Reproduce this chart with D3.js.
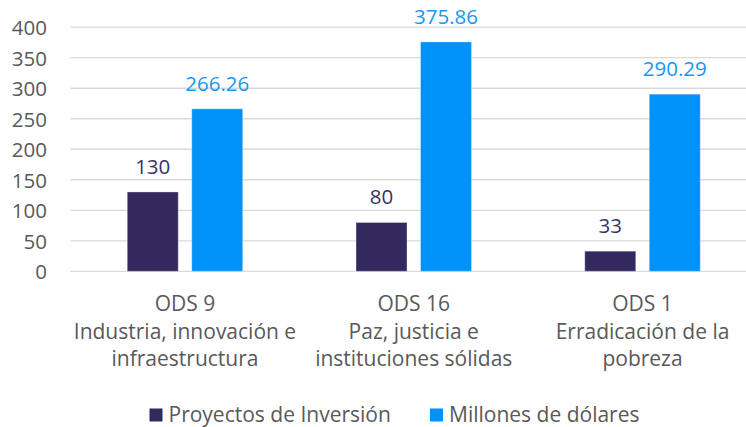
<!DOCTYPE html>
<html>
<head>
<meta charset="utf-8">
<script src="https://cdn.jsdelivr.net/npm/d3@7"></script>
<style>
  html, body { margin: 0; padding: 0; background: #fff; }
  svg { display: block; }
  text { font-family: "Open Sans", Lato, sans-serif; }
</style>
</head>
<body>
<svg id="chart" width="746" height="427"></svg>
<script>
const categories = ["ODS 9", "ODS 16", "ODS 1"];
const categoryLines = [
  ["ODS 9", "Industria, innovación e", "infraestructura"],
  ["ODS 16", "Paz, justicia e", "instituciones sólidas"],
  ["ODS 1", "Erradicación de la", "pobreza"]
];
const seriesNames = ["Proyectos de Inversión", "Millones de dólares"];
const proyectos = [130, 80, 33];
const millones = [266.26, 375.86, 290.29];
const yTicks = [0, 50, 100, 150, 200, 250, 300, 350, 400];
const colors = ["#33295E", "#0092F8"];
const labelColors = ["#3A3169", "#1897F2"];

const svg = d3.select("#chart");

const y = d3.scaleLinear().domain([0, 400]).range([271.3, 27.2]);
const x0 = d3.scaleBand().domain(categories).range([70.6, 756.9]).padding(0);
const groupW = 115.5;
const x1 = d3.scaleBand().domain(seriesNames)
  .range([x0.bandwidth() / 2 - groupW / 2, x0.bandwidth() / 2 + groupW / 2])
  .paddingInner(0.209).paddingOuter(0);

// gridlines
svg.append("g").selectAll("line").data(yTicks).join("line")
  .attr("x1", 70.6).attr("x2", 746)
  .attr("y1", d => y(d)).attr("y2", d => y(d))
  .attr("stroke", "#d9d9d9").attr("stroke-width", 1.3);

// y axis tick labels
const yAxis = d3.axisLeft(y).tickValues(yTicks).tickSize(0).tickPadding(0);
const yg = svg.append("g").attr("transform", "translate(47,0)").call(yAxis);
yg.select(".domain").remove();
yg.selectAll("text")
  .attr("font-family", "'Open Sans', Lato, sans-serif")
  .attr("font-size", 20.5).attr("fill", "#595959").attr("dy", "0.36em");

const data = categories.map((c, i) => ({ cat: c, values: [proyectos[i], millones[i]] }));

const groups = svg.append("g").selectAll("g").data(data).join("g")
  .attr("transform", d => `translate(${x0(d.cat)},0)`);

groups.selectAll("rect").data(d => d.values.map((v, j) => ({ s: seriesNames[j], v, j })))
  .join("rect")
  .attr("x", d => x1(d.s))
  .attr("width", x1.bandwidth())
  .attr("y", d => y(d.v))
  .attr("height", d => y(0) - y(d.v))
  .attr("fill", d => colors[d.j])
  .attr("stroke", "rgba(255,255,255,0.35)").attr("stroke-width", 1);

groups.selectAll("text.val").data(d => d.values.map((v, j) => ({ s: seriesNames[j], v, j })))
  .join("text").attr("class", "val")
  .attr("x", d => x1(d.s) + x1.bandwidth() / 2)
  .attr("y", d => y(d.v) - 18)
  .attr("text-anchor", "middle")
  .attr("font-size", 20.5)
  .attr("fill", d => labelColors[d.j])
  .text(d => d.v);

// category labels
const catG = svg.append("g");
categories.forEach((c, i) => {
  const t = catG.append("text")
    .attr("x", x0(c) + x0.bandwidth() / 2)
    .attr("y", 311)
    .attr("text-anchor", "middle")
    .attr("font-size", 21)
    .attr("fill", "#595959");
  categoryLines[i].forEach((line, k) => {
    t.append("tspan").attr("x", x0(c) + x0.bandwidth() / 2)
      .attr("y", 311 + k * 27.5).text(line);
  });
});

// legend
const legendX = [149.5, 430];
const lg = svg.append("g");
seriesNames.forEach((s, i) => {
  lg.append("rect").attr("x", legendX[i]).attr("y", 408.5)
    .attr("width", 13).attr("height", 13).attr("fill", colors[i]);
  lg.append("text").attr("x", legendX[i] + 19).attr("y", 421.5)
    .attr("font-size", 21).attr("fill", "#595959").text(s);
});
</script>
</body>
</html>
